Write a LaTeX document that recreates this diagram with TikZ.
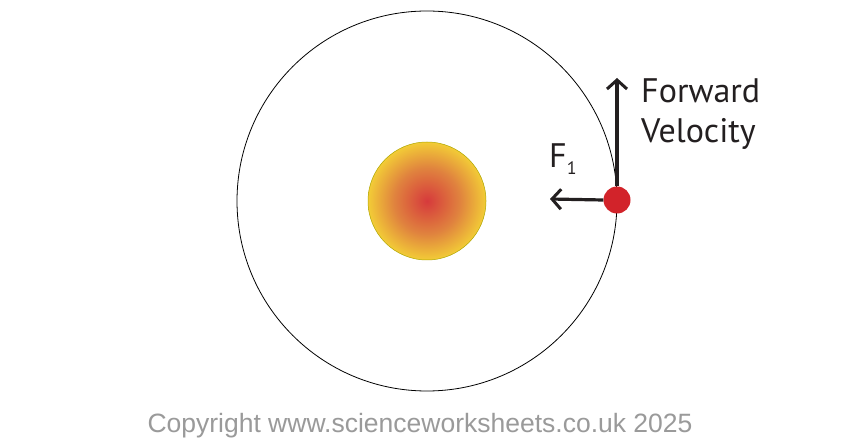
\documentclass[tikz,border=0pt]{standalone}
\usepackage{fontspec}
\setmainfont{PT Sans}
\newfontfamily\copyfont{Liberation Sans}
\usetikzlibrary{arrows.meta}
\definecolor{sunred}{HTML}{D63A3C}
\definecolor{sunorange}{HTML}{E0833E}
\definecolor{sunyellow}{HTML}{F9E634}
\definecolor{planetred}{HTML}{D2232A}
\definecolor{inkdark}{HTML}{231F20}
\definecolor{copygray}{HTML}{9A9A9A}
\pgfdeclareradialshading{sunshade}{\pgfpoint{0bp}{0bp}}{%
  color(0bp)=(sunred); color(14bp)=(sunorange); color(29bp)=(sunyellow); color(50bp)=(sunyellow)}
\tikzset{
  vec/.style={line width=3.2pt, draw=inkdark, -{Straight Barb[length=9pt,width=20pt,line width=3pt]}},
  lbl/.style={font=\fontsize{34}{38}\selectfont, text=inkdark, inner sep=0pt},
}
\begin{document}
\begin{tikzpicture}[x=1pt,y=1pt]
\useasboundingbox[fill=white] (0,0) rectangle (842,439);
% orbit
\coordinate (c) at (427,238);
\draw[line width=0.8pt, black] (c) circle[radius=190];
% sun
\shade[shading=sunshade] (c) circle[radius=59];
\draw[line width=0.5pt, draw=olive!70!yellow] (c) circle[radius=59];
% planet
\node[circle, fill=planetred, minimum size=27pt, inner sep=0pt] (p) at (617,239) {};
\coordinate (vtip) at (617,361);
\coordinate (ftip) at (550,240);
\draw[vec] (p.north) -- (vtip);
\draw[vec] (p.west) -- (ftip);
% labels
\node[lbl, anchor=base west] (fw) at (641,336) {Forward};
\node[lbl, anchor=base west] (vel) at (641,296) {Velocity};
\node[lbl, anchor=base west] (f1) at (549,271) {F\raisebox{-0.4ex}{\fontsize{18}{20}\selectfont 1}};
% copyright
\node[font=\copyfont\fontsize{26.5}{30}\selectfont, text=copygray, inner sep=0pt, anchor=base] (copy) at (420,7) {Copyright www.scienceworksheets.co.uk 2025};
\end{tikzpicture}
\end{document}
